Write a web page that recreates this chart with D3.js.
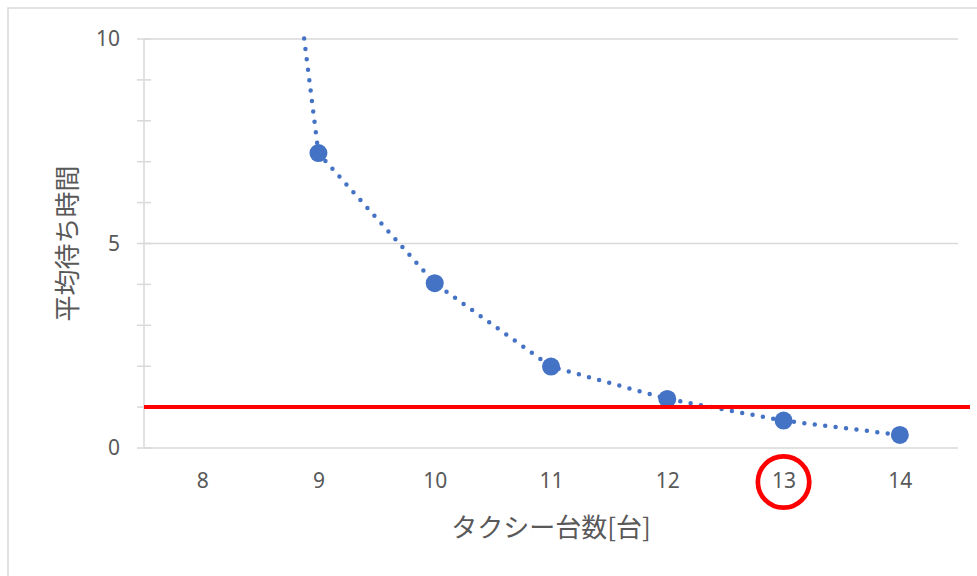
<!DOCTYPE html>
<html>
<head>
<meta charset="utf-8">
<script src="https://cdn.jsdelivr.net/npm/d3@7"></script>
<style>
  html, body { margin: 0; padding: 0; background: #fff; }
  svg { display: block; }
  text { font-family: "Noto Sans CJK JP", "Noto Sans", sans-serif; fill: #595959; }
</style>
</head>
<body>
<svg id="chart" width="977" height="576"></svg>
<script>
// Number of taxis and the average waiting time for each
const taxiCounts = [8, 9, 10, 11, 12, 13, 14];
const waitTimes = [30, 7.21, 4.03, 1.99, 1.2, 0.67, 0.32];
// Target waiting time (horizontal reference line)
const targetWait = [1];
// Highlighted answer on the category axis
const highlighted = [13];
const yTicks = [0, 5, 10];
const yMinorTicks = [1, 2, 3, 4, 6, 7, 8, 9];

const svg = d3.select("#chart");
const plot = { left: 144, right: 958, top: 39, bottom: 448 };

// outer chart frame
svg.append("rect")
  .attr("x", 8).attr("y", 8)
  .attr("width", 1200).attr("height", 1200)
  .attr("fill", "none").attr("stroke", "#d9d9d9").attr("stroke-width", 1.5);

const x = d3.scalePoint()
  .domain(taxiCounts)
  .range([plot.left, plot.right])
  .padding(0.5);

const y = d3.scaleLinear()
  .domain([0, 10])
  .range([plot.bottom, plot.top]);

// horizontal gridlines
svg.append("g")
  .selectAll("line")
  .data(yTicks.filter(d => d > 0))
  .join("line")
  .attr("x1", plot.left).attr("x2", plot.right)
  .attr("y1", d => y(d)).attr("y2", d => y(d))
  .attr("stroke", "#d9d9d9").attr("stroke-width", 1.5);

// x axis (category axis along value 0)
const xAxis = svg.append("g")
  .attr("transform", `translate(0,${y(0)})`)
  .call(d3.axisBottom(x).tickSize(0).tickPadding(25));
xAxis.select(".domain")
  .attr("d", `M${plot.left},0H${plot.right}`)
  .attr("stroke", "#d9d9d9").attr("stroke-width", 1.5);
xAxis.selectAll("text")
  .attr("font-size", 21).attr("fill", "#595959")
  .style("font-family", "'Noto Sans', sans-serif");

// y axis with cross ticks
const yAxis = svg.append("g")
  .attr("transform", `translate(${plot.left},0)`)
  .call(d3.axisLeft(y).tickValues(yTicks).tickSize(0).tickPadding(24));
yAxis.select(".domain")
  .attr("d", `M0,${y(0)}V${y(10)}`)
  .attr("stroke", "#d9d9d9").attr("stroke-width", 1.5);
yAxis.selectAll("text")
  .attr("font-size", 21).attr("fill", "#595959")
  .style("font-family", "'Noto Sans', sans-serif");
yAxis.selectAll(".crossTick")
  .data(yTicks.concat(yMinorTicks))
  .join("line")
  .attr("class", "crossTick")
  .attr("x1", -7).attr("x2", 7)
  .attr("y1", d => y(d)).attr("y2", d => y(d))
  .attr("stroke", "#d9d9d9").attr("stroke-width", 1.5);

// clip marks to the plot area
svg.append("clipPath").attr("id", "plotClip")
  .append("rect")
  .attr("x", plot.left).attr("y", plot.top - 3)
  .attr("width", 1000).attr("height", plot.bottom - plot.top + 30);

const data = taxiCounts.map((c, i) => ({ c, v: waitTimes[i] }));

const marks = svg.append("g").attr("clip-path", "url(#plotClip)");

// dotted series line, drawn outward from the first visible point
const start = data.findIndex(d => d.v <= 10);
const lineGen = d3.line().x(d => x(d.c)).y(d => y(d.v));
const dotted = path => path
  .attr("fill", "none")
  .attr("stroke", "#4472C4")
  .attr("stroke-width", 4.5)
  .attr("stroke-linecap", "round")
  .attr("stroke-dasharray", "0 10.5");

marks.append("path")
  .datum(data.slice(0, start + 1).reverse())
  .attr("d", lineGen)
  .call(dotted);

marks.append("path")
  .datum(data.slice(start))
  .attr("d", lineGen)
  .call(dotted);

// markers
marks.selectAll("circle.pt")
  .data(data)
  .join("circle")
  .attr("class", "pt")
  .attr("cx", d => x(d.c))
  .attr("cy", d => y(d.v))
  .attr("r", 9)
  .attr("fill", "#4472C4");

// target line
svg.selectAll("line.target")
  .data(targetWait)
  .join("line")
  .attr("class", "target")
  .attr("x1", plot.left).attr("x2", 970)
  .attr("y1", d => y(d)).attr("y2", d => y(d))
  .attr("stroke", "#ff0000").attr("stroke-width", 4);

// highlight ring around the chosen category label
svg.selectAll("circle.hl")
  .data(highlighted)
  .join("circle")
  .attr("class", "hl")
  .attr("cx", d => x(d))
  .attr("cy", 482)
  .attr("r", 25.7)
  .attr("fill", "none")
  .attr("stroke", "#ff0000").attr("stroke-width", 4.7);

// axis titles
svg.append("text")
  .attr("x", (plot.left + plot.right) / 2)
  .attr("y", 525)
  .attr("text-anchor", "middle")
  .attr("dominant-baseline", "central")
  .attr("font-size", 26)
  .text("タクシー台数[台]");

svg.append("text")
  .attr("transform", `translate(65,${(y(0) + y(10)) / 2}) rotate(-90)`)
  .attr("text-anchor", "middle")
  .attr("dominant-baseline", "central")
  .attr("font-size", 26)
  .text("平均待ち時間");
</script>
</body>
</html>
